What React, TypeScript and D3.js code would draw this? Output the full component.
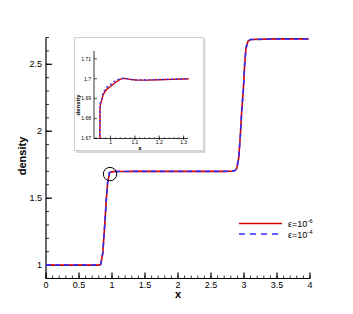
import React from "react";
import * as d3 from "d3";

// ---- data ----
const xs = [0, 0.5, 0.8, 0.83, 0.86, 0.89, 0.915, 0.935, 0.956, 0.957, 0.963, 0.97, 0.984, 0.998, 1.018, 1.039, 1.052, 1.066, 1.085, 1.107, 1.15, 1.2, 1.25, 1.3, 1.35, 1.6, 2.0, 2.4, 2.7, 2.82, 2.86, 2.89, 2.92, 2.945, 2.965, 2.99, 3.01, 3.03, 3.06, 3.1, 3.5, 3.98];
const rhoEps6 = [1, 1, 1, 1.005, 1.09, 1.3, 1.5, 1.62, 1.67, 1.6863, 1.689, 1.6922, 1.6947, 1.696, 1.698, 1.6997, 1.7002, 1.7001, 1.6996, 1.6993, 1.6993, 1.6995, 1.6997, 1.6999, 1.7, 1.7, 1.7, 1.7, 1.7, 1.702, 1.706, 1.72, 1.8, 1.97, 2.15, 2.31, 2.5, 2.62, 2.672, 2.685, 2.69, 2.69];
const rhoEps4 = [1, 1, 1, 1.005, 1.09, 1.3, 1.5, 1.62, 1.67, 1.6875, 1.6895, 1.6932, 1.6957, 1.697, 1.6988, 1.7001, 1.7003, 1.7001, 1.6996, 1.6994, 1.6994, 1.6996, 1.6998, 1.7, 1.7001, 1.7, 1.7, 1.7, 1.7, 1.702, 1.706, 1.72, 1.8, 1.97, 2.15, 2.31, 2.5, 2.62, 2.672, 2.685, 2.69, 2.69];

const xTicks = [0, 0.5, 1, 1.5, 2, 2.5, 3, 3.5, 4];
const yTicks = [1, 1.5, 2, 2.5];
const insetXTicks = [1, 1.1, 1.2, 1.3];
const insetYTicks = [1.67, 1.68, 1.69, 1.7, 1.71];

const RED = "#d40000";
const BLUE = "#2f2fff";
const FONT = "'Liberation Sans', Arial, sans-serif";

export default function App() {
  const W = 353, H = 314;
  const x = d3.scaleLinear().domain([0, 4]).range([46, 310]);
  const y = d3.scaleLinear().domain([0.9, 2.7]).range([278.5, 37.5]);

  const ix = d3.scaleLinear().domain([0.932, 1.318]).range([94, 188]);
  const iy = d3.scaleLinear().domain([1.67, 1.714]).range([138.5, 50.9]);

  const pts6 = xs.map((v, i) => [v, rhoEps6[i]] as [number, number]);
  const pts4 = xs.map((v, i) => [v, rhoEps4[i]] as [number, number]);

  const line = d3.line<[number, number]>().x(d => x(d[0])).y(d => y(d[1]));
  const iline = d3.line<[number, number]>().x(d => ix(d[0])).y(d => iy(d[1]));

  const xMinor = d3.range(0, 4.0001, 0.1);
  const yMinor = d3.range(0.9, 2.7001, 0.1);
  const ixMinor = d3.range(0.94, 1.3101, 0.02);

  return (
    <svg width={W} height={H} style={{ position: "absolute", left: 0, top: 0, background: "#fff" }} fontFamily={FONT}>
      <defs>
        <clipPath id="mainclip">
          <rect x={46} y={30} width={268} height={249} />
        </clipPath>
        <clipPath id="insetclip">
          <rect x={ix.range()[0]} y={iy.range()[1] - 2} width={ix.range()[1] - ix.range()[0] + 1} height={iy.range()[0] - iy.range()[1] + 2} />
        </clipPath>
      </defs>

      {/* main axes */}
      <line x1={x(0)} x2={x(4)} y1={y(0.9)} y2={y(0.9)} stroke="#000" strokeWidth={1.2} />
      <line x1={x(0)} x2={x(0)} y1={y(0.9)} y2={y(2.7)} stroke="#000" strokeWidth={1.2} />
      {xMinor.map((t, i) => (
        <line key={"xm" + i} x1={x(t)} x2={x(t)} y1={y(0.9)} y2={y(0.9) - 3} stroke="#000" strokeWidth={0.8} />
      ))}
      {xTicks.map(t => (
        <g key={"xt" + t}>
          <line x1={x(t)} x2={x(t)} y1={y(0.9)} y2={y(0.9) - 6} stroke="#000" strokeWidth={1.2} />
          <text x={x(t)} y={287.5} fontSize={9} textAnchor="middle">{t}</text>
        </g>
      ))}
      {yMinor.map((t, i) => (
        <line key={"ym" + i} x1={x(0)} x2={x(0) + 3} y1={y(t)} y2={y(t)} stroke="#000" strokeWidth={0.8} />
      ))}
      {yTicks.map(t => (
        <g key={"yt" + t}>
          <line x1={x(0)} x2={x(0) + 6} y1={y(t)} y2={y(t)} stroke="#000" strokeWidth={1.2} />
          <text x={42} y={y(t) + 3.2} fontSize={9} textAnchor="end">{t}</text>
        </g>
      ))}
      <text x={178} y={298} fontSize={11} fontWeight="bold" textAnchor="middle">x</text>
      <text transform={`translate(26,156) rotate(-90)`} fontSize={11} fontWeight="bold" textAnchor="middle">density</text>

      {/* main curves */}
      <g clipPath="url(#mainclip)">
        <path d={line(pts6) || ""} fill="none" stroke={RED} strokeWidth={1.6} />
        <path d={line(pts4) || ""} fill="none" stroke={BLUE} strokeWidth={1.6} strokeDasharray="5,4" />
      </g>

      {/* highlight circle */}
      <circle cx={x(0.97)} cy={y(1.68)} r={6.7} fill="none" stroke="#000" strokeWidth={1} />

      {/* legend */}
      <line x1={239} x2={282} y1={223.5} y2={223.5} stroke={RED} strokeWidth={1.6} />
      <line x1={239} x2={282} y1={234} y2={234} stroke={BLUE} strokeWidth={1.6} strokeDasharray="6,5" />
      <text x={288} y={227} fontSize={9}>ε=10<tspan dy={-4} fontSize={6}>-6</tspan></text>
      <text x={288} y={237.5} fontSize={9}>ε=10<tspan dy={-4} fontSize={6}>-4</tspan></text>

      {/* inset */}
      <rect x={76} y={39} width={129.5} height={114} fill="#d8d8d8" />
      <rect x={74.5} y={37.5} width={129} height={113} fill="#fff" stroke="#d0d0d0" strokeWidth={1} />
      <line x1={ix.range()[0]} x2={ix.range()[1]} y1={iy(1.67)} y2={iy(1.67)} stroke="#000" strokeWidth={0.8} />
      <line x1={ix.range()[0]} x2={ix.range()[0]} y1={iy(1.67)} y2={iy(1.714)} stroke="#000" strokeWidth={0.8} />
      {ixMinor.map((t, i) => (
        <line key={"ixm" + i} x1={ix(t)} x2={ix(t)} y1={iy(1.67)} y2={iy(1.67) - 1.5} stroke="#000" strokeWidth={0.5} />
      ))}
      {insetXTicks.map(t => (
        <g key={"ixt" + t}>
          <line x1={ix(t)} x2={ix(t)} y1={iy(1.67) + 1.5} y2={iy(1.67) - 3} stroke="#000" strokeWidth={0.7} />
          <text x={ix(t)} y={iy(1.67) + 5.5} fontSize={5} textAnchor="middle">{t}</text>
        </g>
      ))}
      {insetYTicks.map(t => (
        <g key={"iyt" + t}>
          <line x1={ix.range()[0]} x2={ix.range()[0] + 3} y1={iy(t)} y2={iy(t)} stroke="#000" strokeWidth={0.7} />
          <text x={ix.range()[0] - 3} y={iy(t) + 1.8} fontSize={5} textAnchor="end">{t}</text>
        </g>
      ))}
      <text x={140} y={149.5} fontSize={6} fontWeight="bold" textAnchor="middle">x</text>
      <text transform={`translate(80,105) rotate(-90)`} fontSize={6} fontWeight="bold" textAnchor="middle">density</text>
      <g clipPath="url(#insetclip)">
        <path d={iline(pts6) || ""} fill="none" stroke={RED} strokeWidth={1.4} />
        <path d={iline(pts4) || ""} fill="none" stroke={BLUE} strokeWidth={1.4} strokeDasharray="2,2.5" />
      </g>
    </svg>
  );
}
